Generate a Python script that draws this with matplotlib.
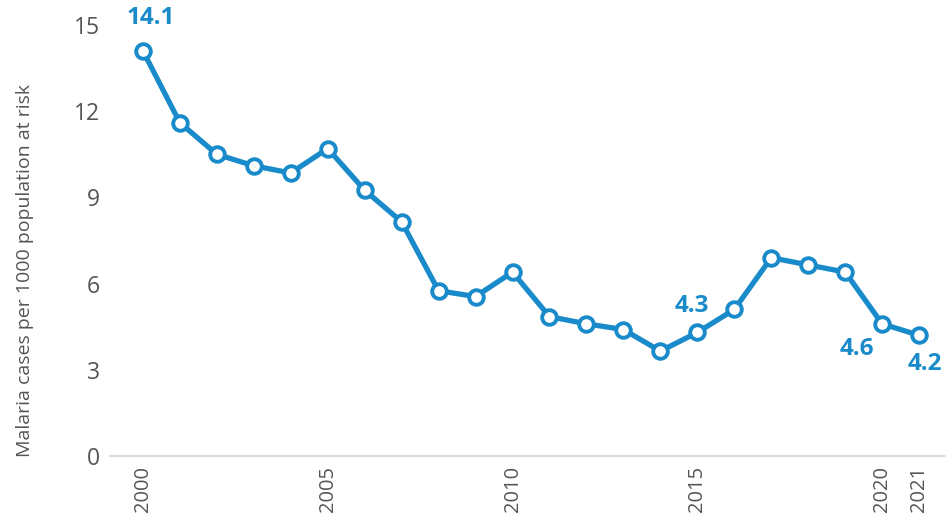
import matplotlib.pyplot as plt

# malaria incidence, cases per 1000 population at risk
years = list(range(2000, 2022))
cases = [14.1, 11.6, 10.5, 10.1, 9.85, 10.7, 9.25, 8.15, 5.75, 5.55, 6.4,
         4.85, 4.6, 4.4, 3.65, 4.3, 5.1, 6.9, 6.65, 6.4, 4.6, 4.2]
xticks = [2000, 2005, 2010, 2015, 2020, 2021]
yticks = [0, 3, 6, 9, 12, 15]

# value labels: year -> offset (points)
labelled = {2000: (6, 24), 2015: (-4, 19), 2020: (-18, -18), 2021: (4, -21)}

plt.rcParams["font.family"] = ["Open Sans", "DejaVu Sans"]

blue = "#1a8bca"
grey = "#555555"

fig = plt.figure(figsize=(9.49, 5.23), dpi=100)
ax = fig.add_axes([110 / 949, 1 - 456 / 523, 835 / 949, 431 / 523])

ax.plot(years, cases, color=blue, lw=3.8, marker="o", ms=10.5,
        mfc="white", mec=blue, mew=2.8, clip_on=False, zorder=3)

for yr, off in labelled.items():
    v = cases[years.index(yr)]
    ax.annotate(f"{v:.1f}", (yr, v), xytext=off, textcoords="offset points",
                ha="center", va="center", color=blue, fontsize=17.5,
                fontweight="bold")

ax.set_xlim(1999.11, 2021.7)
ax.set_ylim(0, 15)
ax.set_xticks(xticks)
ax.set_xticklabels([str(x) for x in xticks], rotation=90, fontsize=14.5,
                   color=grey)
ax.set_yticks(yticks)
ax.set_yticklabels([str(y) for y in yticks], fontsize=16.5, color=grey)
ax.tick_params(axis="both", length=0)
ax.tick_params(axis="y", pad=7)
ax.tick_params(axis="x", pad=7)

for s in ["left", "right", "top"]:
    ax.spines[s].set_visible(False)
ax.spines["bottom"].set_color("#dddddd")
ax.spines["bottom"].set_linewidth(1.5)

ax.set_ylabel("Malaria cases per 1000 population at risk", fontsize=14,
              color=grey)
ax.yaxis.set_label_coords(-76 / 835, 0.43)

fig.savefig("out.png", dpi=100)
